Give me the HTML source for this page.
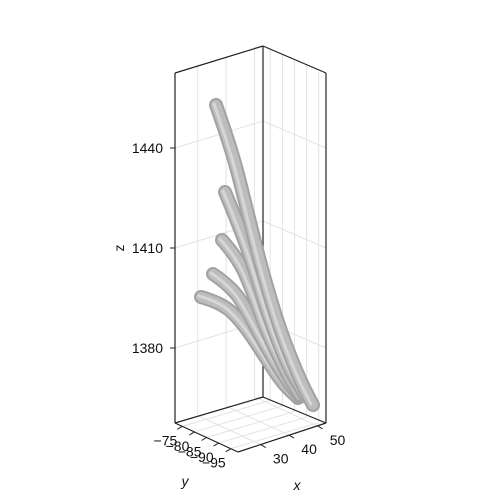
<!DOCTYPE html>
<html><head><meta charset="utf-8"><style>
body{margin:0;background:#fff}
svg{display:block;font-family:"Liberation Sans",sans-serif}
</style></head><body>
<svg id="chart" width="500" height="500" viewBox="0 0 500 500">
<g id="grid"></g>
<g id="box"></g>
<g id="mesh"></g>
<g id="axes"></g>
</svg>
<script>
const zTicks=[1380,1410,1440];
const xTicks=[30,40,50];
const yTicks=[-75,-80,-85,-90,-95];
// branch center-lines (screen-space samples of the mesh)
const branch1=[[216,105],[232,150],[247,210],[262,270],[280,330],[300,380],[313,405]];
const branch2=[[225,192],[240,228],[254,268],[268,315],[287,365],[305,395]];
const branch3=[[222,240],[238,258],[252,290],[266,330],[285,370],[300,395]];
const branch4=[[213,274],[232,287],[248,312],[265,345],[285,378],[300,397]];
const branch5=[[201,297],[222,303],[242,322],[262,352],[282,383],[298,398]];
const branches=[branch5,branch4,branch3,branch2,branch1];

const NS="http://www.w3.org/2000/svg";
function el(t,a,p){const e=document.createElementNS(NS,t);for(const k in a)e.setAttribute(k,a[k]);p.appendChild(e);return e;}
const LT=[175,73],BT=[263,46],RT=[326,73],LB=[175,423],BB=[263,397],RB=[326,423],FB=[238,452];
const zMin=1357.5,zMax=1462.5;
function zy(z){return 423-(z-zMin)/(zMax-zMin)*350;}
const xMin=22,xMax=53,yMin=-72,yMax=-98;
function lerp(a,b,t){return [a[0]+(b[0]-a[0])*t,a[1]+(b[1]-a[1])*t];}
function xp(x){return lerp(FB,RB,(x-xMin)/(xMax-xMin));}
function yp(y){return lerp(LB,FB,(y-yMin)/(yMax-yMin));}

const grid=document.getElementById('grid'),box=document.getElementById('box'),axes=document.getElementById('axes'),mesh=document.getElementById('mesh');
const gs={stroke:"#e3e3e3","stroke-width":1};
zTicks.forEach(z=>{const y=zy(z);
 let l=el('line',Object.assign({x1:175,y1:y,x2:263,y2:y-27},gs),grid);
 
 l=el('line',Object.assign({x1:263,y1:y-27,x2:326,y2:y},gs),grid);
 
});
xTicks.forEach(x=>{const p=xp(x);const d=[p[0]-FB[0],p[1]-FB[1]];
 let l=el('line',Object.assign({x1:p[0],y1:p[1],x2:LB[0]+d[0],y2:LB[1]+d[1]},gs),grid);
 
 const bx=LB[0]+d[0];
 l=el('line',Object.assign({x1:bx,y1:LB[1]+d[1],x2:bx,y2:LT[1]+d[1]},gs),grid);
 
});
yTicks.forEach(y=>{const p=yp(y);const d=[p[0]-LB[0],p[1]-LB[1]];
 let l=el('line',Object.assign({x1:p[0],y1:p[1],x2:BB[0]+d[0],y2:BB[1]+d[1]},gs),grid);
 
 const bx=BB[0]+d[0];
 l=el('line',Object.assign({x1:bx,y1:BB[1]+d[1],x2:bx,y2:BT[1]+d[1]},gs),grid);
 
});
const bs={stroke:"#222","stroke-width":1.2,fill:"none"};
[[LT,BT],[BT,RT],[LT,LB],[BT,BB],[RT,RB],[LB,BB],[BB,RB],[LB,FB],[FB,RB]].forEach(s=>{
 const l=el('line',Object.assign({x1:s[0][0],y1:s[0][1],x2:s[1][0],y2:s[1][1]},bs),box);
 
});
function pathD(pts){let d="M"+pts[0][0]+","+pts[0][1];for(let i=1;i<pts.length-1;i++){const m=[(pts[i][0]+pts[i+1][0])/2,(pts[i][1]+pts[i+1][1])/2];d+=" Q"+pts[i][0]+","+pts[i][1]+" "+m[0]+","+m[1];}const L=pts[pts.length-1];d+=" L"+L[0]+","+L[1];return d;}
branches.forEach((b,i)=>{const d=pathD(b);
 let p=el('path',{d:d,stroke:"#a2a2a2","stroke-width":14,fill:"none","stroke-linecap":"round"},mesh);
 
 p=el('path',{d:d,stroke:"#bdbdbd","stroke-width":10,fill:"none","stroke-linecap":"round"},mesh);
 
 p=el('path',{d:d,stroke:"#d6d6d6","stroke-width":3,fill:"none","stroke-linecap":"round",transform:"translate(-2,-1)"},mesh);
 
});
const ts={stroke:"#222","stroke-width":1};
zTicks.forEach(z=>{const y=zy(z);
 let l=el('line',Object.assign({x1:170,y1:y,x2:175,y2:y},ts),axes);
 
 const t=el('text',{x:163,y:y+5,"text-anchor":"end","font-size":14,fill:"#111"},axes);t.textContent=z;
 
});
xTicks.forEach(x=>{const p=xp(x);
 let l=el('line',Object.assign({x1:p[0],y1:p[1],x2:p[0]+5,y2:p[1]+3},ts),axes);
 
 const t=el('text',{x:p[0]+20,y:p[1]+19,"text-anchor":"middle","font-size":14,fill:"#111"},axes);t.textContent=x;
 
});
yTicks.forEach(y=>{const p=yp(y);
 let l=el('line',Object.assign({x1:p[0],y1:p[1],x2:p[0]-5,y2:p[1]+3},ts),axes);
 
 const t=el('text',{x:p[0]-5,y:p[1]+19,"text-anchor":"end","font-size":14,fill:"#111"},axes);t.textContent=String(y).replace('-','\u2212');
 
});
let t=el('text',{x:124,y:248,"text-anchor":"middle","font-size":14,fill:"#111",transform:"rotate(-90 124 248)"},axes);t.textContent="z";

t=el('text',{x:297,y:490,"text-anchor":"middle","font-size":14,"font-style":"italic",fill:"#111"},axes);t.textContent="x";

t=el('text',{x:185,y:486,"text-anchor":"middle","font-size":14,"font-style":"italic",fill:"#111"},axes);t.textContent="y";

</script>
</body></html>
